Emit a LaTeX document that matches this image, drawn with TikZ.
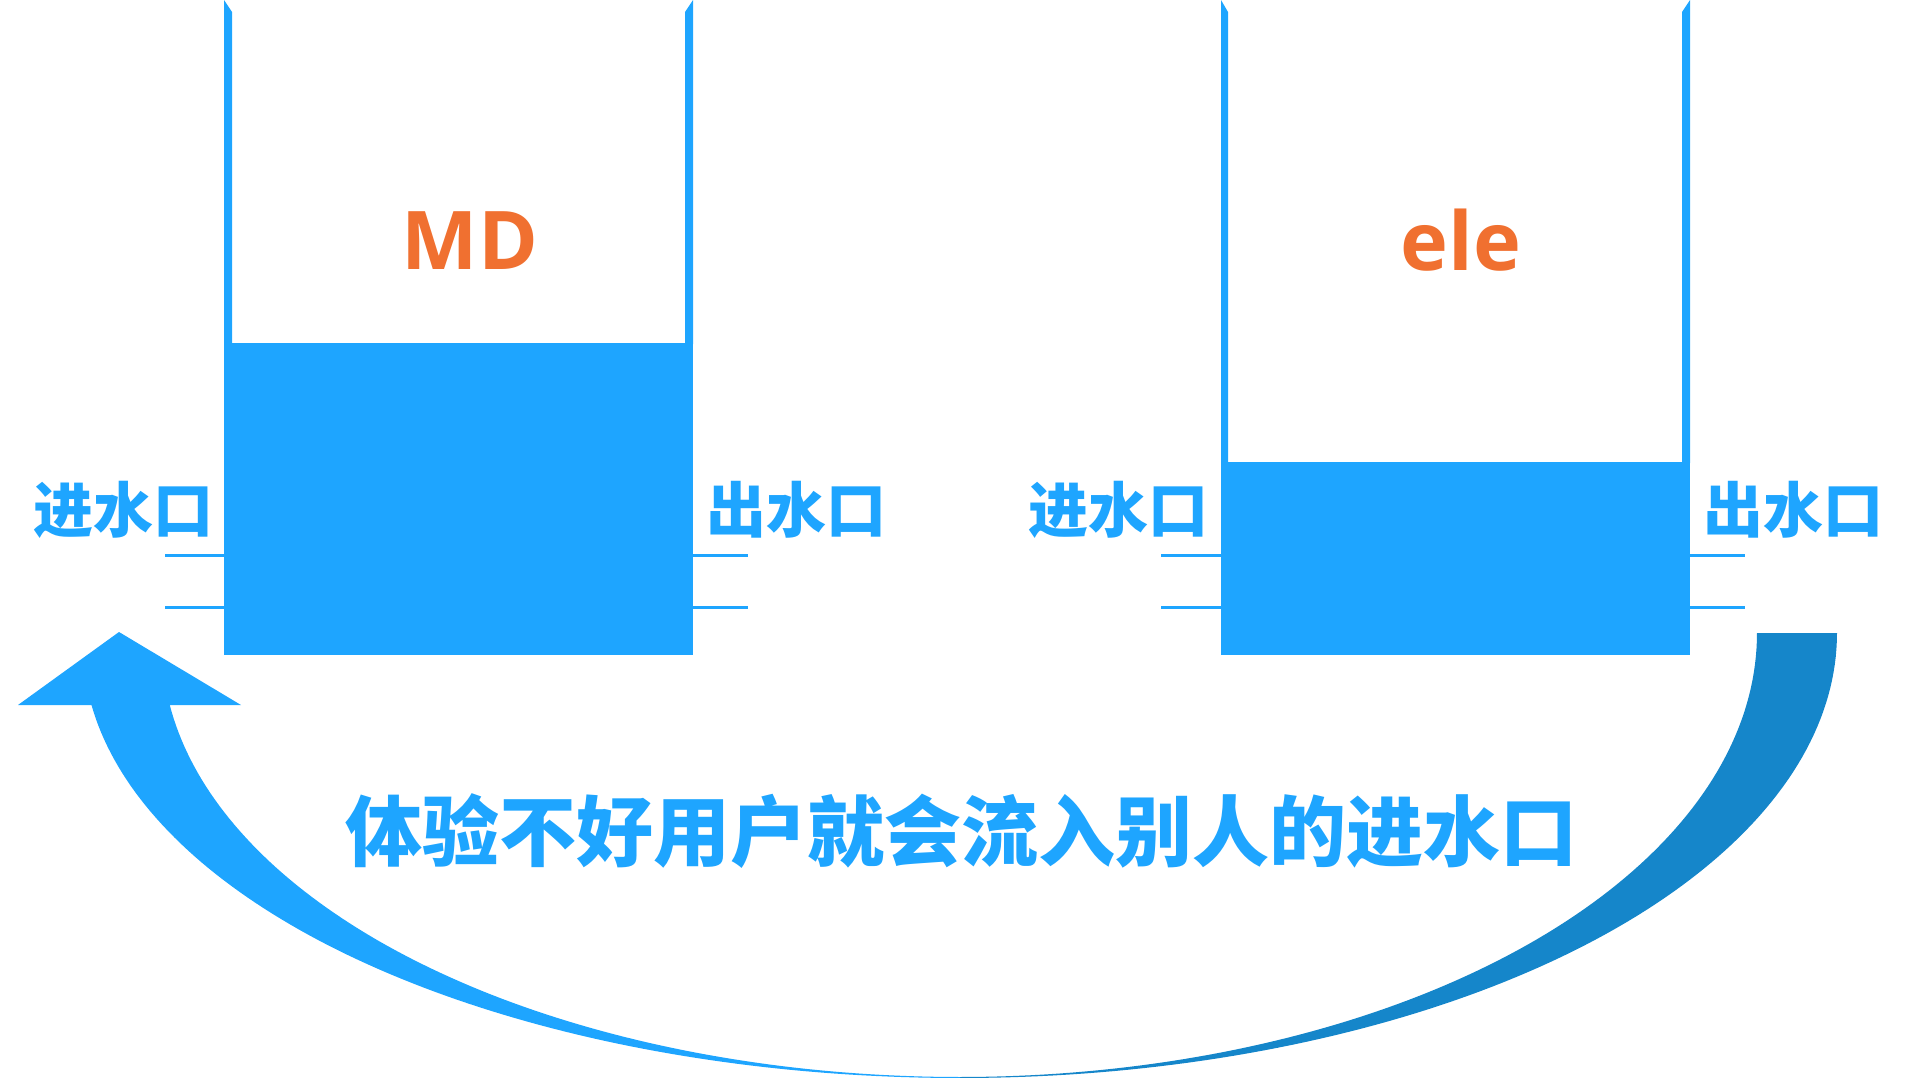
\documentclass[tikz,border=0pt]{standalone}
\usepackage{fontspec}
\newfontfamily\cjk{Noto Sans CJK SC}
\newfontfamily\latinb{Open Sans}
\definecolor{tankblue}{HTML}{1EA5FF}
\definecolor{darkblue}{HTML}{1586CA}
\definecolor{mdorange}{HTML}{F07030}
\begin{document}
\begin{tikzpicture}[x=1pt,y=-1pt,
  water/.style={fill=tankblue, draw=none},
  pipe/.style={draw=tankblue, line width=3pt},
  port/.style={text=tankblue, inner sep=0pt, font=\cjk\bfseries\fontsize{60}{60}\selectfont},
  tanklabel/.style={text=mdorange, inner sep=0pt, font=\latinb\bfseries\fontsize{81}{81}\selectfont},
  caption/.style={text=tankblue, inner sep=0pt, font=\cjk\bfseries\fontsize{77}{77}\selectfont}]
\useasboundingbox (0,0) rectangle (1920,1078);
\clip (0,0) rectangle (1920,1078);

% ---------- left tank (MD) ----------
\fill[water] (224,0) -- (232,12) -- (232,344) -- (224,344) -- cycle;
\fill[water] (693,0) -- (685,12) -- (685,344) -- (693,344) -- cycle;
\fill[water] (224,343) rectangle (693,655);
\coordinate (lt-in-a) at (224,555);
\coordinate (lt-in-b) at (224,607);
\coordinate (lt-out-a) at (693,555);
\coordinate (lt-out-b) at (693,607);
\coordinate (lp-in-a) at (165,555);
\coordinate (lp-in-b) at (165,607);
\coordinate (lp-out-a) at (748,555);
\coordinate (lp-out-b) at (748,607);
\draw[pipe] (lp-in-a) -- (lt-in-a);
\draw[pipe] (lp-in-b) -- (lt-in-b);
\draw[pipe] (lt-out-a) -- (lp-out-a);
\draw[pipe] (lt-out-b) -- (lp-out-b);
\node[tanklabel] (md) at (470,241) {MD};
\node[port] (lin) at (124,510) {进水口};
\node[port] (lout) at (796,510) {出水口};

% ---------- right tank (ele) ----------
\fill[water] (1221,0) -- (1228,12) -- (1228,463) -- (1221,463) -- cycle;
\fill[water] (1690,0) -- (1682,12) -- (1682,463) -- (1690,463) -- cycle;
\fill[water] (1221,462) rectangle (1690,655);
\coordinate (rt-in-a) at (1221,555);
\coordinate (rt-in-b) at (1221,607);
\coordinate (rt-out-a) at (1690,555);
\coordinate (rt-out-b) at (1690,607);
\coordinate (rp-in-a) at (1161,555);
\coordinate (rp-in-b) at (1161,607);
\coordinate (rp-out-a) at (1745,555);
\coordinate (rp-out-b) at (1745,607);
\draw[pipe] (rp-in-a) -- (rt-in-a);
\draw[pipe] (rp-in-b) -- (rt-in-b);
\draw[pipe] (rt-out-a) -- (rp-out-a);
\draw[pipe] (rt-out-b) -- (rp-out-b);
\node[tanklabel] (ele) at (1461,240) {ele};
\node[port] (rin) at (1118,510) {进水口};
\node[port] (rout) at (1793,510) {出水口};

% ---------- curved arrow ----------
\fill[darkblue] (1757,633) -- (1837,633)
  -- plot[domain=0:90, samples=90, variable=\t] ({960+877*cos(\t)}, {633+445*sin(\t)})
  -- plot[domain=90:0, samples=90, variable=\t] ({960+797*cos(\t)}, {633+444*sin(\t)})
  -- cycle;
\fill[tankblue] (18,705) -- (91.5,705)
  -- plot[domain=7.97:90, samples=90, variable=\t] ({960-877*cos(\t)}, {645+433*sin(\t)})
  -- plot[domain=90:8, samples=90, variable=\t] ({960-798*cos(\t)}, {645+432*sin(\t)})
  -- (241,705) -- (119,632) -- cycle;

\node[caption] (cap) at (961,831) {体验不好用户就会流入别人的进水口};
\end{tikzpicture}
\end{document}
